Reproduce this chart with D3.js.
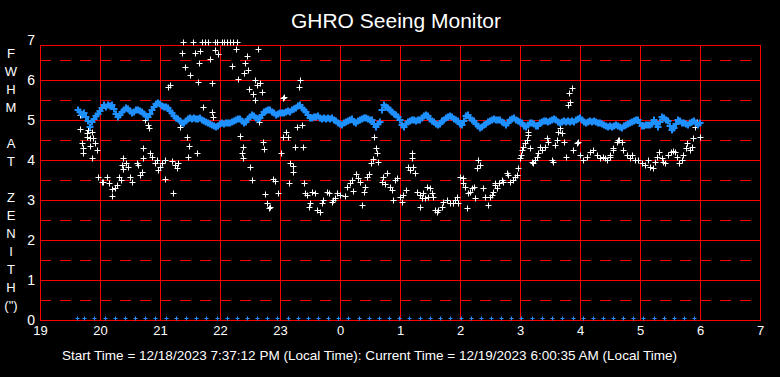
<!DOCTYPE html>
<html>
<head>
<meta charset="utf-8">
<script src="https://cdn.jsdelivr.net/npm/d3@7"></script>
<style>
html,body{margin:0;padding:0;background:#000;}
svg{display:block;}
text{font-family:"Liberation Sans",Arial,sans-serif;fill:#fff;}
</style>
</head>
<body>
<svg id="chart" width="780" height="377"></svg>
<script>
// ---------- DATA ----------
const titleText = "GHRO Seeing Monitor";
const footerText = "Start Time = 12/18/2023 7:37:12 PM (Local Time): Current Time = 12/19/2023 6:00:35 AM (Local Time)";
const yLabelLetters = ["F","W","H","M","","A","T","","Z","E","N","I","T","H","(\")"];
const hourLabels = ["19","20","21","22","23","0","1","2","3","4","5","6","7"];
const hourTickMinutes = [0,60,120,180,240,300,360,420,480,540,600,660,720]; // minutes after 19:00
const yTickValues = [0,1,2,3,4,5,6,7];
const yHalfValues = [0.5,1.5,2.5,3.5,4.5,5.5,6.5];
const yFrameTop = 6.875;

// Blue series (FWHM at zenith, smoothed), one value every 2 minutes starting at minute 38 after 19:00
const blueStartMin = 38, blueStepMin = 2;
const blueFWHM = [
5.25,5.20,5.13,5.18,5.08,4.98,4.83,4.95,5.03,5.10,
5.15,5.22,5.30,5.37,5.33,5.38,5.35,5.37,5.28,5.15,
5.08,5.12,5.20,5.25,5.30,5.27,5.22,5.17,5.20,5.25,
5.25,5.22,5.20,5.15,5.10,5.08,5.15,5.25,5.32,5.40,
5.43,5.40,5.35,5.33,5.32,5.30,5.22,5.17,5.10,5.05,
5.02,4.98,4.93,4.92,4.98,5.03,5.05,5.03,5.05,5.02,
5.03,5.05,5.00,4.98,4.95,4.92,4.90,4.88,4.85,4.83,
4.85,4.90,4.93,4.90,4.92,4.93,4.92,4.95,4.98,5.00,
5.02,5.03,4.98,4.93,4.95,5.03,5.08,5.13,5.10,5.05,
5.03,5.05,5.12,5.20,5.22,5.25,5.25,5.20,5.17,5.13,
5.15,5.18,5.17,5.18,5.20,5.22,5.20,5.25,5.28,5.30,
5.35,5.37,5.30,5.25,5.20,5.13,5.05,5.05,5.08,5.08,
5.10,5.05,5.03,5.05,5.03,5.05,5.03,5.05,5.00,4.98,
4.93,4.90,4.88,4.93,4.95,4.97,5.00,5.02,4.95,4.93,
4.98,5.00,5.03,5.05,5.05,5.03,5.00,5.00,4.90,4.83,
4.90,4.95,5.25,5.38,5.33,5.30,5.25,5.20,5.15,5.13,
5.08,5.00,4.88,4.83,4.90,4.95,4.97,5.00,5.00,4.97,
5.00,5.00,5.05,5.10,5.13,5.10,5.03,4.97,4.95,4.90,
4.88,4.90,4.97,5.00,5.05,5.08,5.10,5.08,5.03,5.00,
4.97,4.90,4.88,4.97,5.10,5.12,5.05,5.00,4.98,4.90,
4.85,4.80,4.83,4.87,4.90,4.95,4.97,5.00,5.02,5.00,
5.00,5.00,4.95,4.92,4.88,4.92,5.00,5.03,5.05,5.00,
4.97,4.95,4.92,4.85,4.83,4.88,4.92,4.93,4.90,4.85,
4.85,4.92,4.95,4.98,4.97,4.95,4.97,5.00,5.02,5.00,
4.95,4.93,4.95,4.97,4.95,4.97,4.95,4.97,4.95,5.00,
5.02,5.05,5.00,4.95,4.92,4.95,4.97,4.95,4.97,4.95,
4.93,4.92,4.90,4.87,4.85,4.83,4.85,4.82,4.85,4.87,
4.85,4.82,4.80,4.85,4.88,4.90,4.93,4.95,4.97,5.00,
5.00,4.93,4.85,4.85,4.88,4.87,4.87,4.90,5.00,4.92,
4.82,4.95,5.08,5.05,5.00,4.97,4.85,4.75,4.80,4.90,
5.00,4.97,4.93,4.93,4.90,4.87,4.92,4.95,4.97,4.93,
4.88,4.92
];

// White series (individual FWHM measurements): minutes after 19:00 and values
const whiteMinutes = [
40,40,42,43,43,47,47,48,50,50,52,52,53,55,57,58,62,63,67,69,72,72,75,77,79,81,82,83,83,86,88,90,92,97,98,100,102,103,103,105,108,109,110,112,115,117,118,120,122,125,125,128,130,132,133,135,137,138,140,142,143,145,147,148,149,150,153,155,157,158,159,160,162,163,165,168,170,172,172,173,175,175,177,178,182,184,187,190,192,193,196,197,198,
200,202,203,203,204,205,207,208,209,210,212,213,215,215,217,218,219,220,222,223,224,225,227,229,230,233,235,238,241,243,243,244,246,248,249,250,253,253,255,257,259,260,262,263,264,265,267,269,270,272,275,277,280,282,283,287,289,292,293,295,297,
300,305,307,310,312,313,316,318,320,322,324,325,327,329,331,333,334,336,337,338,342,343,345,347,350,352,353,355,357,360,362,363,366,368,370,372,372,373,375,377,380,380,382,383,385,387,388,390,392,393,395,397,398,
402,403,407,410,413,415,417,418,420,423,423,425,427,428,430,432,434,435,437,438,440,443,445,448,450,452,453,455,455,457,459,462,463,467,468,470,473,475,477,478,480,481,482,483,485,487,488,488,490,492,493,495,497,498,
500,502,505,507,508,512,513,515,517,518,520,522,524,526,528,529,530,532,533,537,538,540,543,547,550,553,557,560,563,565,567,570,570,573,573,577,578,579,582,583,587,590,592,595,598,
602,605,608,610,613,615,617,619,622,623,625,628,631,633,635,637,639,642,643,646,647,650,652,653,655,657,660
];
const whiteFWHM = [
5.12,4.78,4.42,4.30,4.18,4.68,4.58,4.75,4.55,4.35,4.71,4.05,4.55,4.42,4.25,3.58,3.46,3.45,3.58,3.43,3.28,3.11,3.30,3.38,3.58,3.50,3.88,4.05,3.78,3.93,3.83,3.58,3.46,3.93,3.88,3.63,3.71,4.30,4.05,5.00,4.88,4.81,4.18,4.08,3.93,4.00,3.75,3.83,3.93,4.00,3.53,5.83,5.88,3.98,3.18,3.88,3.80,3.93,4.83,6.68,6.95,6.33,4.58,4.08,4.35,6.13,6.95,6.68,4.18,5.96,6.43,6.73,6.95,5.33,6.95,6.95,6.53,5.93,5.21,5.08,6.75,6.95,6.95,6.65,6.95,6.95,6.95,6.95,6.35,6.95,6.77,6.95,6.02,
4.60,4.18,4.32,4.04,6.17,6.42,6.60,6.25,5.78,3.83,3.50,5.64,5.50,6.00,5.88,6.77,4.96,5.93,5.71,4.46,4.28,3.15,2.93,2.80,2.83,3.53,3.48,3.18,4.18,4.58,5.55,5.58,4.71,4.58,3.43,3.93,3.85,3.71,4.33,4.83,5.83,6.00,4.88,4.33,3.43,3.18,3.13,2.83,2.93,3.21,3.18,2.75,2.71,2.93,3.00,3.21,3.18,2.96,3.00,3.05,3.18,
3.13,3.11,3.33,3.43,3.50,3.23,3.64,3.55,3.46,2.88,3.21,3.33,3.58,3.65,3.93,4.03,4.58,4.30,4.18,3.96,3.46,3.58,3.40,3.68,3.33,3.25,3.00,3.50,3.55,3.08,2.96,3.13,3.25,3.83,3.75,4.05,4.18,3.83,3.68,3.21,3.13,2.83,3.05,3.18,3.05,3.33,3.08,3.30,3.18,3.08,2.75,2.71,2.75,
2.83,2.96,3.00,2.93,2.93,3.00,3.08,2.93,3.58,3.55,3.43,3.33,2.80,3.18,3.21,3.30,3.33,3.05,3.80,4.00,3.88,3.30,3.08,2.88,3.08,3.13,3.21,3.38,3.43,3.30,3.43,3.50,3.46,3.68,3.63,3.46,3.50,3.58,3.63,3.80,4.05,4.13,4.25,4.33,4.43,4.50,4.63,4.71,4.30,3.96,3.93,4.00,4.08,4.18,
4.33,4.25,4.33,4.55,4.46,4.00,3.96,4.38,4.50,4.71,4.80,4.68,4.46,4.08,5.38,5.68,5.46,5.80,4.25,4.43,4.46,4.13,4.00,4.08,4.21,4.25,4.13,4.05,4.08,4.05,4.00,4.08,4.13,4.25,4.30,4.46,4.50,4.50,4.46,4.25,4.13,4.05,4.13,4.00,4.00,
3.93,3.88,4.00,3.83,3.80,3.96,4.08,4.21,4.05,3.96,3.93,4.13,4.21,4.23,4.21,4.08,3.93,4.00,4.13,4.30,4.43,4.25,4.32,4.55,4.83,4.96,4.58
];

// Blue status markers at zero, minutes after 19:00
const statusMinutes = [37,44,54,65,75,85,95,105,115,126,136,146,156,166,177,187,197,207,217,227,237,248,258,268,278,288,298,308,319,329,339,349,359,369,380,390,400,410,421,431,441,451,461,471,481,492,502,512,522,533,543,553,563,573,583,593,603,614,624,634,644,654];
const statusValue = 0.04;

// ---------- DRAW ----------
const svg = d3.select("#chart");
const W = 780, H = 377;
svg.append("rect").attr("width", W).attr("height", H).attr("fill", "#000");

const x = d3.scaleLinear().domain([0, 720]).range([40, 760]);
const y = d3.scaleLinear().domain([0, 7]).range([320, 40]);

const red = "#ff0000";
const blue = "#1e90ff";
const grid = svg.append("g").attr("shape-rendering", "crispEdges");

// dashed half lines
grid.selectAll("line.half").data(yHalfValues).enter().append("line")
  .attr("x1", x(0)).attr("x2", x(720))
  .attr("y1", d => y(d)).attr("y2", d => y(d))
  .attr("stroke", red).attr("stroke-width", 1).attr("stroke-dasharray", "11,9");
// solid integer lines
grid.selectAll("line.full").data(yTickValues.filter(v => v > 0 && v < 7)).enter().append("line")
  .attr("x1", x(0)).attr("x2", x(720))
  .attr("y1", d => y(d)).attr("y2", d => y(d))
  .attr("stroke", red).attr("stroke-width", 1);
// vertical hour lines
grid.selectAll("line.v").data(hourTickMinutes).enter().append("line")
  .attr("x1", d => x(d)).attr("x2", d => x(d))
  .attr("y1", y(yFrameTop)).attr("y2", y(0))
  .attr("stroke", red).attr("stroke-width", 1);
// frame
grid.append("rect")
  .attr("x", x(0)).attr("y", y(yFrameTop))
  .attr("width", x(720) - x(0)).attr("height", y(0) - y(yFrameTop))
  .attr("fill", "none").attr("stroke", red).attr("stroke-width", 1);

// axes
const xAxis = d3.axisBottom(x).tickValues(hourTickMinutes)
  .tickFormat((d, i) => hourLabels[i]).tickSize(0).tickPadding(0);
const gx = svg.append("g").attr("transform", `translate(0,${y(0)})`).call(xAxis);
gx.select(".domain").remove();
gx.selectAll("text").attr("y", 15).attr("dy", 0)
  .style("font-size", "13px").style("font-family", "'Liberation Sans',Arial,sans-serif").attr("fill", "#fff");

const yAxis = d3.axisLeft(y).tickValues(yTickValues).tickFormat(d3.format("d")).tickSize(0).tickPadding(0);
const gy = svg.append("g").attr("transform", `translate(35,0)`).call(yAxis);
gy.select(".domain").remove();
gy.selectAll("text").attr("x", 0)
  .style("font-size", "14px").style("font-family", "'Liberation Sans',Arial,sans-serif").attr("fill", "#fff");

// cross marker path
function cross(px, py, s) {
  return `M${px - s},${py}H${px + s}M${px},${py - s}V${py + s}`;
}

// white points
const whitePts = whiteMinutes.map((m, i) => [m, whiteFWHM[i]]);
svg.append("g").selectAll("path").data(whitePts).enter().append("path")
  .attr("d", d => cross(Math.round(x(d[0])) + 0.5, Math.round(y(d[1])) + 0.5, 3))
  .attr("stroke", "#fff").attr("stroke-width", 1).attr("fill", "none");

// blue series
const bluePts = blueFWHM.map((v, i) => [blueStartMin + i * blueStepMin, v]);
svg.append("g").selectAll("path").data(bluePts).enter().append("path")
  .attr("d", d => cross(Math.round(x(d[0])), Math.round(y(d[1])), 3.5))
  .attr("stroke", blue).attr("stroke-width", 2).attr("fill", "none");

// status markers
svg.append("g").selectAll("path").data(statusMinutes).enter().append("path")
  .attr("d", d => cross(Math.round(x(d)) + 0.5, Math.round(y(statusValue)) + 0.5, 2))
  .attr("stroke", blue).attr("stroke-width", 1).attr("fill", "none");

// title
svg.append("text").attr("x", 396).attr("y", 28).attr("text-anchor", "middle")
  .style("font-size", "21px").text(titleText);

// vertical letter label
svg.append("g").selectAll("text").data(yLabelLetters).enter().append("text")
  .attr("x", 11).attr("y", (d, i) => 53 + i * 18).attr("dy", "0.35em")
  .attr("text-anchor", "middle").style("font-size", "13px").text(d => d);

// footer
svg.append("text").attr("x", 62).attr("y", 360)
  .attr("textLength", 615).attr("lengthAdjust", "spacingAndGlyphs")
  .style("font-size", "13px").style("white-space", "pre").text(footerText);
</script>
</body>
</html>
